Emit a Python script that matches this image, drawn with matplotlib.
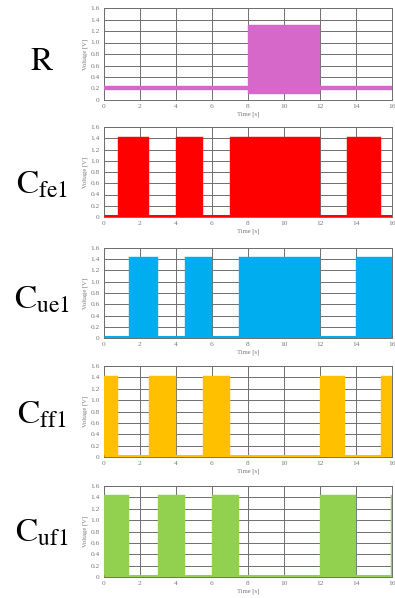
"""Pulse voltage traces for the five channels (R, Cfe1, Cue1, Cff1, Cuf1)."""

import matplotlib
matplotlib.use("Agg")
import matplotlib.pyplot as plt

# Channel names (mathtext) and colours
labels = ["R", r"$\mathregular{C_{fe1}}$", r"$\mathregular{C_{ue1}}$",
          r"$\mathregular{C_{ff1}}$", r"$\mathregular{C_{uf1}}$"]
colors = ["#d568c8", "#ff0000", "#00aeef", "#ffc000", "#92d050"]

# "on" intervals in seconds (start, end)
r_on = [(8.0, 12.0)]
cfe1_on = [(0.8, 2.5), (4.0, 5.5), (7.0, 12.0), (13.5, 15.4)]
cue1_on = [(1.4, 3.0), (4.5, 6.0), (7.5, 12.0), (14.0, 16.0)]
cff1_on = [(0.0, 0.8), (2.5, 4.0), (5.5, 7.0), (12.0, 13.4), (15.4, 16.0)]
cuf1_on = [(0.0, 1.4), (3.0, 4.5), (6.0, 7.5), (12.0, 14.0), (15.93, 16.0)]

# band limits while on [V]
r_band = (0.10, 1.30)
cfe1_band = (0.03, 1.43)
cue1_band = (0.03, 1.44)
cff1_band = (0.03, 1.42)
cuf1_band = (0.03, 1.44)

# resting level while off [V]
r_rest = 0.205
c_rest = 0.02

t_end = 16.0
xticks = list(range(0, 17, 2))
yticks = [0, 0.2, 0.4, 0.6, 0.8, 1.0, 1.2, 1.4, 1.6]
ytick_labels = ["0", "0.2", "0.4", "0.6", "0.8", "1.0", "1.2", "1.4", "1.6"]

channels = [
    (r_on, r_band, r_rest, 3.2),
    (cfe1_on, cfe1_band, c_rest, 2.2),
    (cue1_on, cue1_band, c_rest, 2.2),
    (cff1_on, cff1_band, c_rest, 2.2),
    (cuf1_on, cuf1_band, c_rest, 2.2),
]

plt.rcParams["font.family"] = ["Liberation Serif", "DejaVu Serif"]
plt.rcParams["mathtext.fontset"] = "stix"

W, H = 395, 598
fig = plt.figure(figsize=(W / 100, H / 100), dpi=100)
fig.patch.set_facecolor("white")

# pixel rows of each panel (top, bottom)
rows = [(8, 100), (127, 217), (248, 338), (366, 457), (486, 577)]
left_px, right_px = 104, 392
label_y = [62, 185, 300, 415, 533]

grid_col = "#6e6e6e"

for i, (on, band, rest, rest_lw) in enumerate(channels):
    top, bot = rows[i]
    ax = fig.add_axes([left_px / W, 1 - bot / H, (right_px - left_px) / W, (bot - top) / H])
    color = colors[i]

    # resting level between pulses
    ax.plot([0, t_end], [rest, rest], color=color, linewidth=rest_lw,
            solid_capstyle="butt", zorder=3)
    # pulses
    lo, hi = band
    ax.broken_barh([(s, e - s) for s, e in on], (lo, hi - lo),
                   facecolors=color, edgecolor=color, linewidth=0.3, zorder=4)

    ax.set_xlim(0, t_end)
    ax.set_ylim(0, 1.6)
    ax.set_xticks(xticks)
    ax.set_yticks(yticks)
    ax.set_yticklabels(ytick_labels)
    ax.grid(True, color=grid_col, linewidth=0.7, zorder=1)
    ax.set_axisbelow(True)
    ax.tick_params(length=0, labelsize=5.3, colors="#777777", pad=3)
    for sp in ax.spines.values():
        sp.set_color(grid_col)
        sp.set_linewidth(0.7)
    ax.set_xlabel("Time [s]", fontsize=4.8, color="#777777", labelpad=2)
    ax.set_ylabel("Voltage [V]", fontsize=4.8, color="#777777", labelpad=2)

    fig.text(42 / W, 1 - label_y[i] / H, labels[i], fontsize=24,
             ha="center", va="center", family="STIXGeneral")

fig.savefig("out.png", dpi=100, facecolor="white")
